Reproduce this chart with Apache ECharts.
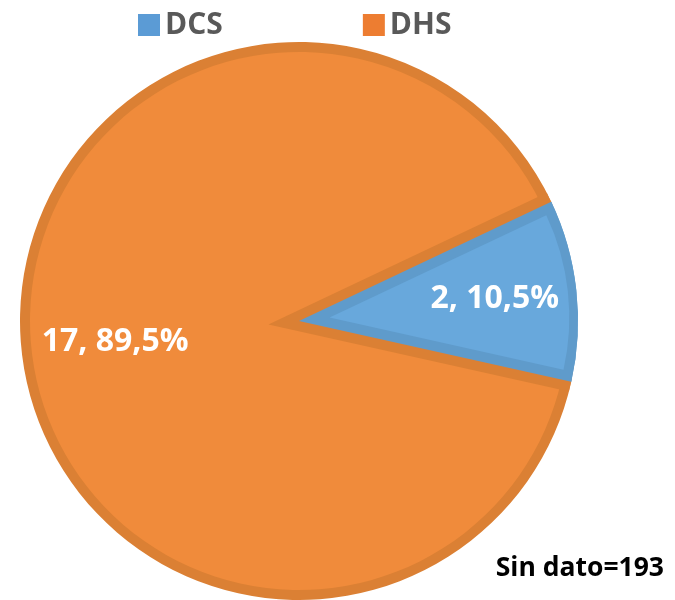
<!DOCTYPE html>
<html>
<head>
<meta charset="utf-8">
<script src="https://cdn.jsdelivr.net/npm/echarts@6/dist/echarts.min.js"></script>
<style>
  html, body { margin: 0; padding: 0; background: #fff; }
  #chart { width: 675px; height: 600px; }
</style>
</head>
<body>
<div id="chart"></div>
<script>
// data
const categories = ['DCS', 'DHS'];
const values = [2, 17];
const noData = 193;

const lightColors = ['#68A8DC', '#F08B3B'];
const darkColors = ['#5F9BCB', '#DB8034'];
const legendColors = ['#5B9BD5', '#ED7D31'];

// pie geometry
const cx = 299, cy = 321, R = 279, band = 10;
const startAngle = 25.3;

const total = values.reduce((a, b) => a + b, 0);
const half = values[0] / total * Math.PI;            // half angle of the DCS slice
const mid = (startAngle * Math.PI / 180) - half;     // bisector of DCS slice
const shift = band / Math.sin(half);
const sx = Math.cos(mid) * shift, sy = -Math.sin(mid) * shift;
// radius of the grown / shrunk wedges so their arcs meet the rim
const rGrow = shift * Math.cos(half) + Math.sqrt(R * R - band * band);
const rShrink = -shift * Math.cos(half) + Math.sqrt((R - band) * (R - band) - band * band);

function layer(center, radius, colors, extra) {
    return Object.assign({
        type: 'pie',
        center: center,
        radius: radius,
        startAngle: startAngle,
        clockwise: true,
        silent: true,
        animation: false,
        label: { show: false },
        labelLine: { show: false },
        emphasis: { disabled: true },
        itemStyle: { borderWidth: 0 },
        data: categories.map((c, i) => ({
            name: c,
            value: values[i],
            itemStyle: { color: colors[i] }
        }))
    }, extra || {});
}

// transparent ring that only carries the label of one slice
function labelLayer(radius, idx) {
    const s = layer([cx, cy], radius, ['transparent', 'transparent'], {
        label: {
            show: false,
            position: 'inside',
            color: '#fff',
            fontFamily: 'Open Sans',
            fontWeight: 'bold',
            fontSize: 32,
            formatter: function (p) {
                return p.value + ', ' + p.percent.toFixed(1).replace('.', ',') + '%';
            }
        }
    });
    s.data[idx].label = { show: true };
    return s;
}

const series = [
    layer([cx, cy], R, darkColors),
    layer([cx, cy], R - band, [lightColors[1], lightColors[1]]),
    layer([cx - sx, cy - sy], rGrow, [darkColors[1], 'transparent']),
    layer([cx, cy], R, [darkColors[0], 'transparent']),
    layer([cx + sx, cy + sy], rShrink, [lightColors[0], 'transparent']),
    labelLayer([144, 244], 0),
    labelLayer([132, 232], 1)
];

const option = {
    backgroundColor: '#fff',
    title: {
        text: 'Sin dato=' + noData,
        right: 6,
        top: 550,
        textStyle: {
            fontFamily: 'Open Sans',
            fontWeight: 'bold',
            fontSize: 26.5,
            color: '#000'
        }
    },
    legend: {
        left: 133,
        top: 5,
        itemWidth: 22,
        itemHeight: 22,
        itemGap: 140,
        icon: 'rect',
        selectedMode: false,
        textStyle: {
            fontFamily: 'Open Sans',
            fontWeight: 'bold',
            fontSize: 30,
            color: '#595959'
        },
        data: categories.map((c, i) => ({ name: c, itemStyle: { color: legendColors[i] } }))
    },
    series: series
};

const chart = echarts.init(document.getElementById('chart'));
chart.setOption(option);
</script>
</body>
</html>
